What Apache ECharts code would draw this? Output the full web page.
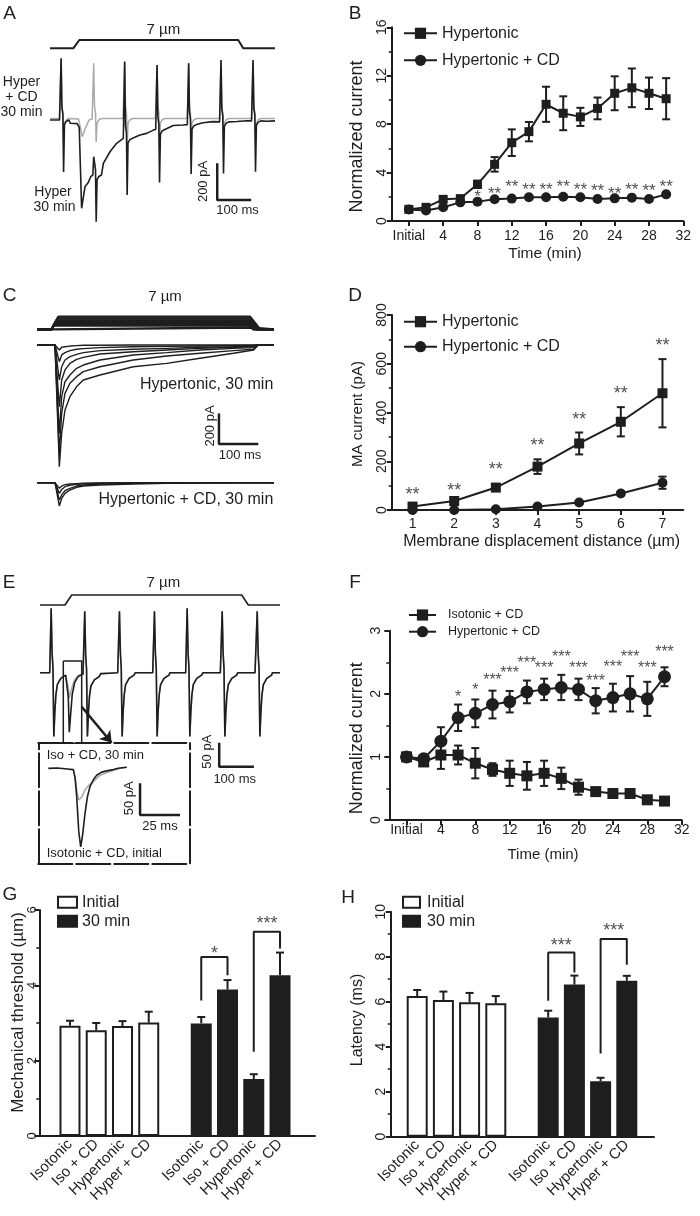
<!DOCTYPE html>
<html><head><meta charset="utf-8">
<script src="https://cdn.jsdelivr.net/npm/echarts@6/dist/echarts.min.js"></script>
<style>html,body{margin:0;padding:0;background:#fff}#c{width:700px;height:1216px}</style>
</head><body><div id="c"></div>
<script>
const K = '#1e1e1e', GR = '#aaaaaa';
const FF = '"Liberation Sans", Arial, Helvetica, sans-serif';

// ---------- Panel A (ms / pA) ----------
const stimA = [[0,0],[68.5,0],[86.2,7],[553.8,7],[568.5,0],[661.8,0]];
const artTemplateA = [[0,0],[1.2,'up'],[3.5,70],[6.5,30],[8.5,'down'],[11,-25],[16,-8],[24,0]];
const artBlackA = [[31.5,0,336,-283],[127.4,-300,-200,-554],[218.5,-100,318,-409],[313.8,-52,300,-340],[406.8,-25,309,-294],[502,-10,327,-291],[596.2,-5,327,-282]];
const baseBlackA = [[0,0],[28,0],[60,-18],[80,-20],[86,-40],[93,-481],[103,-363],[112.7,-341],[119.6,-309],[126,-300],[157,-236],[176.5,-173],[196,-127],[215.7,-100],[264.7,-82],[284.3,-73],[304,-55],[311,-52],[362.7,-30],[392,-27],[404,-25],[450,-15],[480,-9],[499,-10],[550,-8],[578,-4],[593,-5],[637,-7],[662,-5]];
const artGrayA = [[31.5,8,330,-150],[127.4,8,309,-120],[218.5,8,320,-150],[313.8,8,300,-150],[406.8,8,309,-150],[502,8,320,-150],[596.2,8,320,-150]];
const baseGrayA = [[0,8],[28,8],[60,5],[84,5],[88,-30],[95,-91],[105,-40],[115,0],[124,5],[160,8],[215,8],[250,8],[310,8],[345,8],[404,8],[440,8],[499,8],[535,8],[593,8],[630,8],[662,8]];
const scaleA = [[492,-236],[492,-436],[592,-436]];

// ---------- Panel B ----------
const timeB = [0,2,4,6,8,10,12,14,16,18,20,22,24,26,28,30];
const timeTickValues = [0,4,8,12,16,20,24,28,32];
const hyperB = [0.96,1.13,1.79,1.85,3.03,4.68,6.47,7.38,9.64,8.9,8.6,9.3,10.55,11.0,10.55,10.1];
const hyperErrB = [0.1,0.1,0.15,0.15,0.3,0.6,1.1,0.8,1.45,1.4,0.75,0.9,1.4,1.6,1.3,1.7];
const hyperCdB = [0.96,0.87,1.13,1.54,1.6,1.79,1.85,1.96,1.96,2.0,1.96,1.82,1.87,1.93,1.82,2.2];
const hyperCdErrB = [0.05,0.05,0.1,0.1,0.1,0.1,0.1,0.1,0.1,0.1,0.1,0.1,0.1,0.1,0.1,0.12];
const starTimeB = [8,10,12,14,16,18,20,22,24,26,28,30];
const starLevelB = [2.3,2.5,3.1,2.85,2.9,3.1,2.9,2.75,2.55,2.9,2.75,3.15];
const starTextB = ['*','**','**','**','**','**','**','**','**','**','**','**'];

// ---------- Panel C (ms / pA) ----------
const stimAmpC = [1,2,3,4,5,6,7];
const stimOnC = 36.6, stimOffC = 541, stimEndC = 602;
const stimRiseEndC = [39,41.4,43.8,46.2,48.6,51,53.4];
const stimFallEndC = [544.6,548.3,551.9,555.6,559.2,562.8,566.5];
const tC = [0,45,56,62,70.4,83,100,117,159.5,244,329,414,499,550,562,602];
const hyperTracesC = [
  [0,0,-33,-15,-11,-7,-4,-2,-2,0,0,0,0,0,0,0],
  [0,0,-109,-65,-50,-37,-28,-24,-17,-11,-9,-7,-4,-2,0,0],
  [0,0,-229,-142,-98,-76,-61,-50,-37,-28,-22,-15,-11,-7,0,0],
  [0,0,-403,-229,-163,-120,-94,-81,-59,-44,-33,-22,-15,-11,0,0],
  [0,0,-577,-338,-240,-196,-152,-131,-98,-65,-50,-33,-22,-17,0,0],
  [0,0,-708,-446,-316,-250,-207,-174,-142,-98,-72,-54,-37,-28,0,0],
  [0,0,-795,-577,-425,-338,-272,-229,-196,-142,-120,-87,-54,-33,0,0]
];
const cdTracesC = [
  [0,0,-37,-22,-13,-9,-6,-4,-2,0,0,0,0,0,0,0],
  [0,0,-70,-44,-26,-17,-11,-7,-4,-2,0,0,0,0,0,0],
  [0,0,-113,-80,-52,-37,-22,-15,-9,-4,-2,0,0,0,0,0],
  [0,0,-152,-102,-70,-48,-30,-22,-15,-9,-4,-2,0,0,0,0]
];
const scaleC = [[462,-447],[462,-647],[562,-647]];

// ---------- Panel D ----------
const distD = ['1','2','3','4','5','6','7'];
const hyperD = [14,37,92,178,273,362,479];
const hyperErrD = [8,10,12,30,45,60,140];
const cdD = [0,0,3,14,31,68,112];
const cdErrD = [0,0,3,5,6,8,25];
const starLevelD = [78,96,180,280,385,492,688];
const starTextD = ['**','**','**','**','**','**','**'];

// ---------- Panel E (ms / pA) ----------
const stimE = [[0,0],[72.1,0],[91.4,7],[581.6,7],[600.6,0],[692,0]];
const artTemplateE = [[0,0],[1.3,'up'],[4,40],[6.5,10],[9,'down'],[12,-80],[15,-46],[19,-25],[29,-12],[43,-5]];
const artBlackE = [[30.9,0,134,-133],[127.7,-3,128,-133],[227.8,0,128,-133],[328.7,0,128,-133],[423,0,134,-133],[524,0,128,-133],[625,0,128,-133]];
const baseBlackE = [[0,0],[28,0],[76,-5],[79,-8],[81.5,-50],[84.5,-124],[88,-90],[93,-45],[100,-20],[110,-8],[124,-3],[175,-2],[200,-1],[224,0],[275,0],[325,0],[375,0],[420,0],[470,0],[520,0],[570,0],[620,0],[670,0],[692,0]];
const baseGrayE = [[0,0],[28,0],[76,-5],[79,-8],[81.5,-30],[84.5,-53],[88,-42],[93,-28],[100,-14],[110,-6],[124,-3],[175,-2],[200,-1],[224,0],[275,0],[325,0],[375,0],[420,0],[470,0],[520,0],[570,0],[620,0],[670,0],[692,0]];
const boxE = [[67.2,24.4],[120.2,24.4],[120.2,-147],[67.2,-147],[67.2,24.4]];
const arrowE = [[120.2,-70.8],[206.6,-145.8]];
const scaleE = [[516.7,-145.8],[516.7,-195.8],[616.7,-195.8]];
const insetBlackE = [[6.25,0],[12,0.5],[18,-1],[21.9,-2],[23,-15],[24,-45],[25.3,-100],[26.5,-124],[27.7,-105],[29.2,-71],[30.7,-45],[32.3,-29],[34.4,-18],[36.5,-11],[39.6,-6],[42.75,-4],[47,-2],[50,0],[55.25,1.6]];
const insetGrayE = [[21.9,-2],[23,-15],[24,-35],[25.3,-50],[26,-53],[27.2,-45],[29.2,-34],[31.5,-27],[34.4,-21],[38.6,-11],[44.8,-5],[51,0],[55.25,1.6]];
const scaleInsetE = [[63.6,-23.7],[63.6,-73.8],[88.6,-73.8]];

// ---------- Panel F ----------
const hyperCdF = [1.0,0.97,1.25,1.62,1.69,1.83,1.875,2.03,2.07,2.1,2.07,1.89,1.94,2.0,1.92,2.27];
const hyperCdErrF = [0.03,0.05,0.22,0.21,0.22,0.22,0.17,0.18,0.17,0.2,0.17,0.2,0.22,0.28,0.27,0.15];
const isoCdF = [1.0,0.92,1.03,1.03,0.9,0.8,0.74,0.7,0.74,0.66,0.52,0.45,0.42,0.42,0.32,0.3];
const isoCdErrF = [0.03,0.05,0.22,0.15,0.24,0.1,0.2,0.22,0.2,0.17,0.12,0.05,0.04,0.06,0.03,0.03];
const starTimeF = [6,8,10,12,14,16,18,20,22,24,26,28,30];
const starLevelF = [2.0,2.12,2.28,2.39,2.55,2.47,2.63,2.47,2.26,2.48,2.63,2.47,2.72];
const starTextF = ['*','*','***','***','***','***','***','***','***','***','***','***','***'];

// ---------- Panels G & H ----------
const groupLabels = ['Isotonic','Iso + CD','Hypertonic','Hyper + CD','','Isotonic','Iso + CD','Hypertonic','Hyper + CD'];
const thrInitial = [2.93,2.81,2.92,3.01];
const thrInitialErr = [0.13,0.19,0.13,0.29];
const thr30 = [2.99,3.89,1.51,4.27];
const thr30Err = [0.17,0.25,0.13,0.6];
const bracketsG = [[5,6,3.6,4.75,4.27],[7,8,2.24,5.42,4.98]];
const starsG = [[5.5,4.94],[7.5,5.73]];
const starTextG = ['*','***'];
const latInitial = [6.25,6.07,5.97,5.93];
const latInitialErr = [0.27,0.38,0.42,0.32];
const lat30 = [5.3,6.76,2.47,6.93];
const lat30Err = [0.3,0.4,0.15,0.22];
const bracketsH = [[5,6,6.04,8.19,7.3],[7,8,3.7,8.79,7.64]];
const starsH = [[5.5,8.67],[7.5,9.33]];
const starTextH = ['***','***'];

// ================= build =================
const grid=[], xAxis=[], yAxis=[], series=[], legend=[], graphic=[];
function G(l,t,w,h){grid.push({left:l,top:t,width:w,height:h}); return grid.length-1;}
function addX(o){xAxis.push(o); return xAxis.length-1;}
function addY(o){yAxis.push(o); return yAxis.length-1;}
function hid(type, gi, min, max){return {type, gridIndex:gi, min, max, show:false, axisLine:{onZero:false}};}
const axLine = {show:true, onZero:false, lineStyle:{color:K,width:2}};
const tick = (len)=>({show:true, length:len, inside:false, lineStyle:{color:K,width:2}});
const minor = {show:true, splitNumber:2, length:3, lineStyle:{color:K,width:1.5}};
const noSplit = {show:false};
function trace(xi, yi, data, color, lw, z){
  series.push({type:'line', xAxisIndex:xi, yAxisIndex:yi, data, showSymbol:false, symbol:'none',
    lineStyle:{color, width:lw}, itemStyle:{color}, clip:false, silent:true, z:z||2, animation:false});
}
function withArtifacts(base, arts, template){
  const pts = base.slice();
  arts.forEach(a=>{
    template.forEach(([dt,k])=>{
      pts.push([a[0]+dt, k==='up'?a[2]:(k==='down'?a[3]:a[1]+k)]);
    });
  });
  return pts.sort((p,q)=>p[0]-q[0]);
}
function errSeries(xi, yi, rows, cap, two, lw){
  series.push({type:'custom', xAxisIndex:xi, yAxisIndex:yi, data:rows, encode:{x:0,y:[1,2]}, clip:false, silent:true, z:2,
    renderItem:(params, api)=>{
      const x = api.value(0), lo = api.value(1), hi = api.value(2);
      const p1 = api.coord([x,lo]), p2 = api.coord([x,hi]);
      const st = {stroke:K, lineWidth:lw||2};
      const ch = [
        {type:'line', shape:{x1:p1[0],y1:p1[1],x2:p2[0],y2:p2[1]}, style:st},
        {type:'line', shape:{x1:p2[0]-cap,y1:p2[1],x2:p2[0]+cap,y2:p2[1]}, style:st}
      ];
      if (two) ch.push({type:'line', shape:{x1:p1[0]-cap,y1:p1[1],x2:p1[0]+cap,y2:p1[1]}, style:st});
      return {type:'group', children:ch};
    }});
}
function starSeries(xi, yi, pts, texts, size){
  series.push({type:'scatter', xAxisIndex:xi, yAxisIndex:yi, data:pts, symbolSize:1, silent:true, z:6,
    itemStyle:{color:'rgba(0,0,0,0)'},
    label:{show:true, position:'inside', formatter:p=>texts[p.dataIndex], fontSize:size, color:K, fontFamily:FF, offset:[0,4]}});
}
function lineSeries(name, xi, yi, data, symbol, size){
  series.push({type:'line', name, xAxisIndex:xi, yAxisIndex:yi, data, symbol, symbolSize:size, showSymbol:true,
    lineStyle:{color:K,width:2}, itemStyle:{color:K}, clip:false, z:4});
}
function txt(text, x, y, size, align, rot){
  graphic.push({type:'text', x, y, rotation:rot||0, silent:true, z:100,
    style:{text, fontSize:size, fontFamily:FF, fill:K, align:align||'center', verticalAlign:'middle',
      textAlign:align||'center', textVerticalAlign:'middle'}});
}
const fmtTime = v => v===0 ? 'Initial' : String(v);
const lbl = (o)=>Object.assign({fontSize:14, color:K, fontFamily:FF}, o);

// ---- A ----
const gAs = G(50, 40, 225, 8.3);
const xAs = addX(hid('value', gAs, 0, 662)), yAs = addY(hid('value', gAs, 0, 7));
trace(xAs, yAs, stimA, K, 2);
const gA = G(50, 46.6, 225, 183.5);
const xA = addX(hid('value', gA, 0, 662)), yA = addY(hid('value', gA, -600, 400));
trace(xA, yA, withArtifacts(baseGrayA, artGrayA, artTemplateA), GR, 1.5, 2);
trace(xA, yA, withArtifacts(baseBlackA, artBlackA, artTemplateA), K, 1.6, 3);
trace(xA, yA, scaleA, K, 2.5, 3);

// ---- B ----
const gB = G(391.7, 27.3, 291.6, 193.7);
const xB = addX({type:'value', gridIndex:gB, min:-2, max:32, axisLine:axLine,
  axisTick:Object.assign(tick(5), {customValues:timeTickValues}),
  axisLabel:lbl({customValues:timeTickValues, formatter:fmtTime, margin:8}), splitLine:noSplit});
const yB = addY({type:'value', gridIndex:gB, min:0, max:16, interval:4, axisLine:axLine, axisTick:tick(5), minorTick:minor,
  splitLine:noSplit, axisLabel:lbl({rotate:90, margin:3})});
errSeries(xB, yB, timeB.map((t,i)=>[t, hyperB[i]-hyperErrB[i], hyperB[i]+hyperErrB[i]]), 4, true);
errSeries(xB, yB, timeB.map((t,i)=>[t, hyperCdB[i]-hyperCdErrB[i], hyperCdB[i]+hyperCdErrB[i]]), 4, true);
lineSeries('Hypertonic', xB, yB, timeB.map((t,i)=>[t, hyperB[i]]), 'rect', 9);
lineSeries('Hypertonic + CD', xB, yB, timeB.map((t,i)=>[t, hyperCdB[i]]), 'circle', 10);
starSeries(xB, yB, starTimeB.map((t,i)=>[t, starLevelB[i]]), starTextB, 17);
legend.push({left:403, top:24.3, orient:'vertical', data:['Hypertonic','Hypertonic + CD'], itemWidth:33, itemHeight:14, itemGap:9,
  padding:0, selectedMode:false, textStyle:{fontSize:16, lineHeight:18, color:K, fontFamily:FF}});

// ---- C ----
const gCs = G(37.3, 316.7, 236.7, 12.6);
const xCs = addX(hid('value', gCs, 0, 602)), yCs = addY(hid('value', gCs, 0, 7));
stimAmpC.forEach((a,i)=>{
  trace(xCs, yCs, [[0,0],[stimOnC,0],[stimRiseEndC[i],a],[stimOffC,a],[stimFallEndC[i],0],[stimEndC,0]], K, 2.3);
});
const gCh = G(37.3, 329.7, 236.7, 145.35);
const xCh = addX(hid('value', gCh, 0, 602)), yCh = addY(hid('value', gCh, -850, 100));
hyperTracesC.forEach(tr=>trace(xCh, yCh, tC.map((t,i)=>[t, tr[i]]), K, 1.4));
trace(xCh, yCh, scaleC, K, 2.5);
const gCc = G(37.3, 478.1, 236.7, 35.19);
const xCc = addX(hid('value', gCc, 0, 602)), yCc = addY(hid('value', gCc, -200, 30));
cdTracesC.forEach(tr=>trace(xCc, yCc, tC.map((t,i)=>[t, tr[i]]), K, 1.4));

// ---- D ----
const gD = G(391.7, 315, 291.6, 195);
const xD = addX({type:'category', gridIndex:gD, data:distD, boundaryGap:true, axisLine:axLine,
  axisTick:Object.assign(tick(5), {alignWithLabel:true}), axisLabel:lbl({margin:7}), splitLine:noSplit});
const yD = addY({type:'value', gridIndex:gD, min:0, max:800, interval:200, axisLine:axLine, axisTick:tick(5), minorTick:minor,
  splitLine:noSplit, axisLabel:lbl({rotate:90, margin:3})});
errSeries(xD, yD, distD.map((c,i)=>[i, hyperD[i]-hyperErrD[i], hyperD[i]+hyperErrD[i]]), 4, true);
errSeries(xD, yD, distD.map((c,i)=>[i, cdD[i]-cdErrD[i], cdD[i]+cdErrD[i]]), 4, true);
lineSeries('Hypertonic', xD, yD, hyperD, 'rect', 10);
lineSeries('Hypertonic + CD', xD, yD, cdD, 'circle', 10);
starSeries(xD, yD, distD.map((c,i)=>[i, starLevelD[i]]), starTextD, 18);
legend.push({left:403, top:312.7, orient:'vertical', data:['Hypertonic','Hypertonic + CD'], itemWidth:33, itemHeight:14, itemGap:7,
  padding:0, selectedMode:false, textStyle:{fontSize:16, lineHeight:18, color:K, fontFamily:FF}});

// ---- E ----
const gEs = G(40, 595, 240, 10);
const xEs = addX(hid('value', gEs, 0, 692)), yEs = addY(hid('value', gEs, 0, 7));
trace(xEs, yEs, stimE, K, 1.6);
const gE = G(40, 600.7, 240, 168);
const xE = addX(hid('value', gE, 0, 692)), yE = addY(hid('value', gE, -200, 150));
trace(xE, yE, withArtifacts(baseGrayE, artBlackE, artTemplateE), GR, 1.5, 2);
trace(xE, yE, withArtifacts(baseBlackE, artBlackE, artTemplateE), K, 1.6, 3);
trace(xE, yE, boxE, K, 1.5, 4);
trace(xE, yE, scaleE, K, 2.5, 4);
series.push({type:'lines', coordinateSystem:'cartesian2d', xAxisIndex:xE, yAxisIndex:yE, silent:true, z:5,
  data:[{coords:arrowE}], symbol:['none','arrow'], symbolSize:11, lineStyle:{color:K, width:2.5, opacity:1}});
const gI = G(38.3, 743, 151, 120.3);
const dashAx = {show:true, onZero:false, lineStyle:{color:K, width:2, type:[34,4]}};
const noTick = {show:false}, noLab = {show:false};
const xI = addX({type:'value', gridIndex:gI, min:0, max:94.375, position:'bottom', axisLine:dashAx, axisTick:noTick, axisLabel:noLab, splitLine:noSplit});
addX({type:'value', gridIndex:gI, min:0, max:94.375, position:'top', axisLine:dashAx, axisTick:noTick, axisLabel:noLab, splitLine:noSplit});
const yI = addY({type:'value', gridIndex:gI, min:-150, max:40, position:'left', axisLine:dashAx, axisTick:noTick, axisLabel:noLab, splitLine:noSplit});
addY({type:'value', gridIndex:gI, min:-150, max:40, position:'right', axisLine:dashAx, axisTick:noTick, axisLabel:noLab, splitLine:noSplit});
trace(xI, yI, insetGrayE, GR, 1.6, 2);
trace(xI, yI, insetBlackE, K, 1.6, 3);
trace(xI, yI, scaleInsetE, K, 2.5, 3);

// ---- F ----
const gF = G(389.3, 630.7, 292.4, 189.3);
const xF = addX({type:'value', gridIndex:gF, min:-2, max:32, axisLine:axLine,
  axisTick:Object.assign(tick(5), {customValues:timeTickValues}),
  axisLabel:lbl({customValues:timeTickValues, formatter:fmtTime, margin:3}), splitLine:noSplit});
const yF = addY({type:'value', gridIndex:gF, min:0, max:3, interval:1, axisLine:axLine, axisTick:tick(5), minorTick:minor,
  splitLine:noSplit, axisLabel:lbl({rotate:90, margin:6})});
errSeries(xF, yF, timeB.map((t,i)=>[t, isoCdF[i]-isoCdErrF[i], isoCdF[i]+isoCdErrF[i]]), 4, true);
errSeries(xF, yF, timeB.map((t,i)=>[t, hyperCdF[i]-hyperCdErrF[i], hyperCdF[i]+hyperCdErrF[i]]), 4, true);
lineSeries('Isotonic + CD', xF, yF, timeB.map((t,i)=>[t, isoCdF[i]]), 'rect', 11);
lineSeries('Hypertonic + CD', xF, yF, timeB.map((t,i)=>[t, hyperCdF[i]]), 'circle', 13);
starSeries(xF, yF, starTimeF.map((t,i)=>[t, starLevelF[i]]), starTextF, 16);
legend.push({left:408, top:608, orient:'vertical', data:['Isotonic + CD','Hypertonic + CD'], itemWidth:27, itemHeight:14, itemGap:2.7,
  padding:0, selectedMode:false, textStyle:{fontSize:12.5, lineHeight:14, color:K, fontFamily:FF, padding:[0,0,0,7]}});

// ---- G & H ----
function barPanel(axL, axW, barL, barW, top, h, ymax, yint, yMargin, yFont, ini, iniErr, t30, t30Err, brackets, stars, starTexts){
  const ga = G(axL, top, axW, h);
  addX({type:'value', gridIndex:ga, min:0, max:1, axisLine:axLine, axisTick:noTick, axisLabel:noLab, splitLine:noSplit});
  addY({type:'value', gridIndex:ga, min:0, max:ymax, interval:yint, axisLine:axLine, axisTick:tick(5), minorTick:minor,
    splitLine:noSplit, axisLabel:lbl({rotate:90, margin:yMargin, fontSize:yFont})});
  const gb = G(barL, top, barW, h);
  const xc = addX({type:'category', gridIndex:gb, data:groupLabels.map((l,i)=>'s'+i), boundaryGap:true,
    axisLine:{show:false}, axisTick:noTick, splitLine:noSplit,
    axisLabel:lbl({interval:0, rotate:45, fontSize:15, margin:6, formatter:(v,i)=>groupLabels[i]})});
  const xv = addX(hid('value', gb, -0.5, 8.5));
  const yb = addY(hid('value', gb, 0, ymax));
  const empty = ['-','-','-','-','-'];
  series.push({type:'bar', name:'Initial', xAxisIndex:xc, yAxisIndex:yb, data:ini.concat(empty), barWidth:21, barGap:'-100%', z:2,
    itemStyle:{color:'#ffffff', borderColor:K, borderWidth:2}});
  series.push({type:'bar', name:'30 min', xAxisIndex:xc, yAxisIndex:yb, data:empty.concat(t30), barWidth:21, barGap:'-100%', z:2,
    itemStyle:{color:K, borderColor:K, borderWidth:2}});
  errSeries(xv, yb, ini.map((v,i)=>[i, v, v+iniErr[i]]), 4, false);
  errSeries(xv, yb, t30.map((v,i)=>[i+5, v, v+t30Err[i]]), 4, false);
  brackets.forEach(b=>{
    trace(xv, yb, [[b[0],b[2]],[b[0],b[3]],[b[1],b[3]],[b[1],b[4]]], K, 2, 4);
  });
  starSeries(xv, yb, stars, starTexts, 18);
}
barPanel(39.3, 275.7, 56.85, 236.3, 910, 226, 6, 2, 0, 13, thrInitial, thrInitialErr, thr30, thr30Err, bracketsG, starsG, starTextG);
barPanel(390.7, 263.3, 404.1, 235.8, 911.7, 225, 10, 2, 3, 14, latInitial, latInitialErr, lat30, lat30Err, bracketsH, starsH, starTextH);
legend.push({left:57, top:893.7, orient:'vertical', data:['Initial','30 min'], icon:'rect', itemWidth:19, itemHeight:11, itemGap:2,
  padding:0, selectedMode:false, textStyle:{fontSize:16, lineHeight:17, color:K, fontFamily:FF}});
legend.push({left:402, top:893.7, orient:'vertical', data:['Initial','30 min'], icon:'rect', itemWidth:17, itemHeight:11, itemGap:2,
  padding:0, selectedMode:false, textStyle:{fontSize:16, lineHeight:17, color:K, fontFamily:FF, padding:[0,0,0,2]}});

// ---- texts ----
const R = Math.PI/2;
[['A',9.5,13.5],['B',355,13.5],['C',9.5,296],['D',355,296],['E',9,582.5],['F',355,583],['G',10,894.5],['H',348,898]]
  .forEach(([t,x,y])=>txt(t,x,y,19));
txt('7 µm', 163.3, 30, 15);
txt('Hyper', 21.5, 81.7, 14); txt('+ CD', 21.5, 96.7, 14); txt('30 min', 21.5, 111.7, 14);
txt('Hyper', 53, 191.7, 14); txt('30 min', 54.5, 206.7, 14);
txt('200 pA', 203.5, 181.5, 13, 'center', R); txt('100 ms', 237.5, 210, 13);
txt('Normalized current', 357.5, 136.5, 18, 'center', R);
txt('Time (min)', 545, 254, 15.5);
txt('7 µm', 165, 297, 15);
txt('Hypertonic, 30 min', 273.3, 385, 16, 'right');
txt('200 pA', 210, 426, 13, 'center', R); txt('100 ms', 240, 455, 13);
txt('Hypertonic + CD, 30 min', 273.3, 500, 16, 'right');
txt('MA current (pA)', 357.5, 414, 15, 'center', R);
txt('Membrane displacement distance (µm)', 541.7, 542, 16);
txt('7 µm', 163.3, 583.3, 15);
txt('50 pA', 207.5, 751.7, 13, 'center', R); txt('100 ms', 234.7, 779.3, 13);
txt('Iso + CD, 30 min', 46.7, 755, 13, 'left');
txt('Isotonic + CD, initial', 46.7, 853.3, 13, 'left');
txt('50 pA', 129.2, 798.3, 13, 'center', R); txt('25 ms', 160, 826, 13);
txt('Normalized current', 357.5, 738.3, 18, 'center', R);
txt('Time (min)', 543, 855, 15);
txt('Mechanical threshold (µm)', 18, 1012.5, 17, 'center', R);
txt('Latency (ms)', 357.5, 1020, 16, 'center', R);

const chart = echarts.init(document.getElementById('c'), null, {renderer:'canvas', width:700, height:1216});
chart.setOption({animation:false, backgroundColor:'#ffffff', textStyle:{fontFamily:FF},
  grid, xAxis, yAxis, series, legend, graphic:{elements:graphic}});
</script></body></html>
